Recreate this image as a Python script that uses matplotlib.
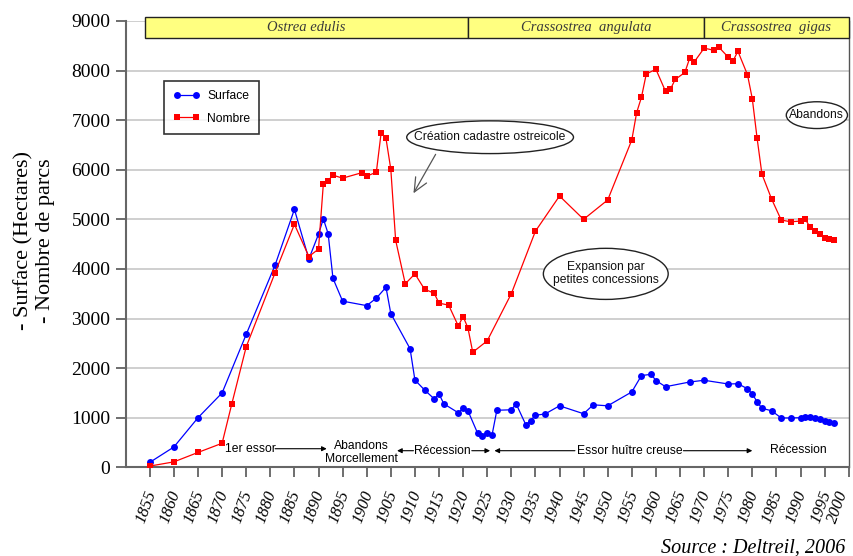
import matplotlib
matplotlib.use("Agg")
import matplotlib.pyplot as plt
import matplotlib.transforms as mtransforms
from matplotlib.patches import Ellipse, Rectangle

# ---------------- data ----------------
years_surface = [1855, 1860, 1865, 1870, 1875, 1881, 1885, 1888, 1890, 1891,
                 1892, 1893, 1895, 1900, 1902, 1904, 1905, 1909, 1910, 1912,
                 1914, 1915, 1916, 1919, 1920, 1921, 1923, 1924, 1925, 1926,
                 1927, 1930, 1931, 1933, 1934, 1935, 1937, 1940, 1945, 1947,
                 1950, 1955, 1957, 1959, 1960, 1962, 1967, 1970, 1975, 1977,
                 1979, 1980, 1981, 1982, 1984, 1986, 1988, 1990, 1991, 1992,
                 1993, 1994, 1995, 1996, 1997]
surface = [100, 410, 1000, 1500, 2680, 4080, 5200, 4200, 4700, 5010,
           4710, 3810, 3350, 3260, 3410, 3630, 3100, 2390, 1760, 1560,
           1380, 1480, 1280, 1100, 1190, 1140, 690, 640, 700, 650,
           1150, 1160, 1280, 860, 940, 1050, 1075, 1240, 1080, 1260,
           1240, 1520, 1850, 1875, 1750, 1625, 1720, 1755, 1680, 1685,
           1585, 1480, 1320, 1190, 1140, 995, 995, 1000, 1020, 1010,
           990, 970, 940, 905, 900]

years_nombre = [1855, 1860, 1865, 1870, 1872, 1875, 1881, 1885, 1888, 1890,
                1891, 1892, 1893, 1895, 1899, 1900, 1902, 1903, 1904, 1905,
                1906, 1908, 1910, 1912, 1914, 1915, 1917, 1919, 1920, 1921,
                1922, 1925, 1930, 1935, 1940, 1945, 1950, 1955, 1956, 1957,
                1958, 1960, 1962, 1963, 1964, 1966, 1967, 1968, 1970, 1972,
                1973, 1975, 1976, 1977, 1979, 1980, 1981, 1982, 1984, 1986,
                1988, 1990, 1991, 1992, 1993, 1994, 1995, 1996, 1997]
nombre = [25, 110, 300, 485, 1275, 2430, 3925, 4900, 4250, 4400,
          5710, 5780, 5890, 5830, 5940, 5870, 5950, 6750, 6630, 6010,
          4580, 3700, 3900, 3590, 3510, 3310, 3270, 2850, 3040, 2810,
          2320, 2550, 3500, 4760, 5470, 5000, 5390, 6600, 7150, 7460,
          7930, 8025, 7580, 7620, 7820, 7960, 8245, 8180, 8450, 8410,
          8475, 8270, 8190, 8390, 7915, 7430, 6630, 5910, 5410, 4985,
          4950, 4965, 5000, 4840, 4760, 4710, 4625, 4600, 4580]

species_names = ["Ostrea edulis", "Crassostrea  angulata", "Crassostrea  gigas"]
species_bounds = [1854, 1921, 1970, 2000]

x_ticks = list(range(1855, 2001, 5))
y_ticks = list(range(0, 9001, 1000))

# ---------------- figure ----------------
fig = plt.figure(figsize=(8.54, 5.56), dpi=100)
ax = fig.add_axes([0.1472, 0.1595, 0.8466, 0.8029])
ax.set_xlim(1850, 2000)
ax.set_ylim(0, 9000)

serif = ["Liberation Serif", "DejaVu Serif"]
sans = ["Liberation Sans", "DejaVu Sans"]

# grid
ax.set_xticks(x_ticks)
ax.set_xticks(list(range(1860, 2001, 20)), minor=True)
ax.set_yticks(y_ticks)
ax.grid(which="minor", axis="x", color="#cccccc", lw=1.3, zorder=0)
ax.grid(which="major", axis="y", color="#cccccc", lw=1.3, zorder=0)
ax.set_axisbelow(True)
ax.tick_params(which="minor", length=0)
ax.tick_params(which="major", direction="out", length=7, width=1.2, color="#555555")

ax.set_yticklabels([str(v) for v in y_ticks], fontsize=14, family=serif)
ax.set_xticklabels([str(v) for v in x_ticks], fontsize=12, family=serif,
                   style="italic", rotation=70, ha="right", va="center",
                   rotation_mode="anchor")
ax.tick_params(axis="x", pad=10)
ax.tick_params(axis="y", pad=4)
xlabels = ax.get_xticklabels()
for i, lab in enumerate(xlabels):
    dx = 2 if i < len(xlabels) - 1 else -5
    lab.set_transform(lab.get_transform() +
                      mtransforms.ScaledTranslation(dx / 100, 0, fig.dpi_scale_trans))

for s in ["left", "bottom"]:
    ax.spines[s].set_color("#666666")
    ax.spines[s].set_linewidth(1.5)
ax.spines["right"].set_color("#555555")
ax.spines["right"].set_linewidth(1.0)
ax.spines["top"].set_visible(False)

# series
ax.plot(years_surface, surface, color="#0000ff", lw=0.9, marker="o",
        markersize=5, markeredgewidth=0, label="Surface", zorder=3)
ax.plot(years_nombre, nombre, color="#ff0000", lw=0.9, marker="s",
        markersize=5, markeredgewidth=0, label="Nombre", zorder=3)

leg = ax.legend(loc="upper left", bbox_to_anchor=(0.053, 0.865), borderaxespad=0,
                frameon=True, fancybox=False, prop={"family": sans, "size": 8.7},
                numpoints=2, handlelength=2.2, borderpad=0.75, labelspacing=0.85,
                handletextpad=0.6)
leg.get_frame().set_edgecolor("black")
leg.get_frame().set_linewidth(1.2)

# header band with species
for name, x0, x1 in zip(species_names, species_bounds[:-1], species_bounds[1:]):
    ax.add_patch(Rectangle((x0, 8650), x1 - x0, 420, facecolor="#ffff80",
                           edgecolor="#222222", lw=1.0, clip_on=False, zorder=5))
    ax.text((x0 + x1) / 2, 8860, name, ha="center", va="center", fontsize=10.5,
            family=serif, style="italic", color="#3a3a3a", zorder=6, clip_on=False)

# ellipse annotations
def bubble(xc, yc, w, h, txt):
    ax.add_patch(Ellipse((xc, yc), w, h, facecolor="white", edgecolor="#222222",
                         lw=1.0, zorder=4))
    ax.text(xc, yc, txt, ha="center", va="center", fontsize=8.7, family=sans,
            color="#111111", zorder=5, linespacing=1.1)

bubble(1925.6, 6655, 34.6, 660, "Création cadastre ostreicole")
bubble(1949.6, 3900, 25.9, 1030, "Expansion par\npetites concessions")
bubble(1993.4, 7100, 12.7, 540, "Abandons")

ax.annotate("", xy=(1909.7, 5524), xytext=(1914.3, 6310),
            arrowprops=dict(arrowstyle="->,head_length=1.0,head_width=0.45",
                            color="#555555", lw=0.9, shrinkA=0, shrinkB=0), zorder=4)

# period annotations along the bottom
def period_arrow(x0, x1, y):
    ax.annotate("", xy=(x1, y), xytext=(x0, y),
                arrowprops=dict(arrowstyle="-|>", color="black", lw=0.8,
                                mutation_scale=7, shrinkA=0, shrinkB=0), zorder=4)

fs = 8.7
ax.text(1875.8, 375, "1er essor", ha="center", va="center", fontsize=fs, family=sans)
period_arrow(1881.0, 1891.7, 375)
ax.text(1899.0, 300, "Abandons\nMorcellement", ha="center", va="center",
        fontsize=fs, family=sans, linespacing=1.05)
period_arrow(1909.7, 1906.3, 335)
ax.text(1915.6, 335, "Récession", ha="center", va="center", fontsize=fs, family=sans)
period_arrow(1921.8, 1925.6, 335)
period_arrow(1943.2, 1926.5, 335)
ax.text(1954.5, 335, "Essor huître creuse", ha="center", va="center",
        fontsize=fs, family=sans)
period_arrow(1965.7, 1980.0, 335)
ax.text(1989.6, 350, "Récession", ha="center", va="center", fontsize=fs, family=sans)

# axis label and source
fig.text(0.0405, 0.568, "- Surface (Hectares)\n- Nombre de parcs", rotation=90,
         ha="center", va="center", multialignment="center", fontsize=16,
         family=serif, linespacing=1.2)
fig.text(0.9895, 0.0144, "Source : Deltreil, 2006", ha="right", va="center",
         fontsize=14.5, family=serif, style="italic")

fig.savefig("out.png", dpi=100)
